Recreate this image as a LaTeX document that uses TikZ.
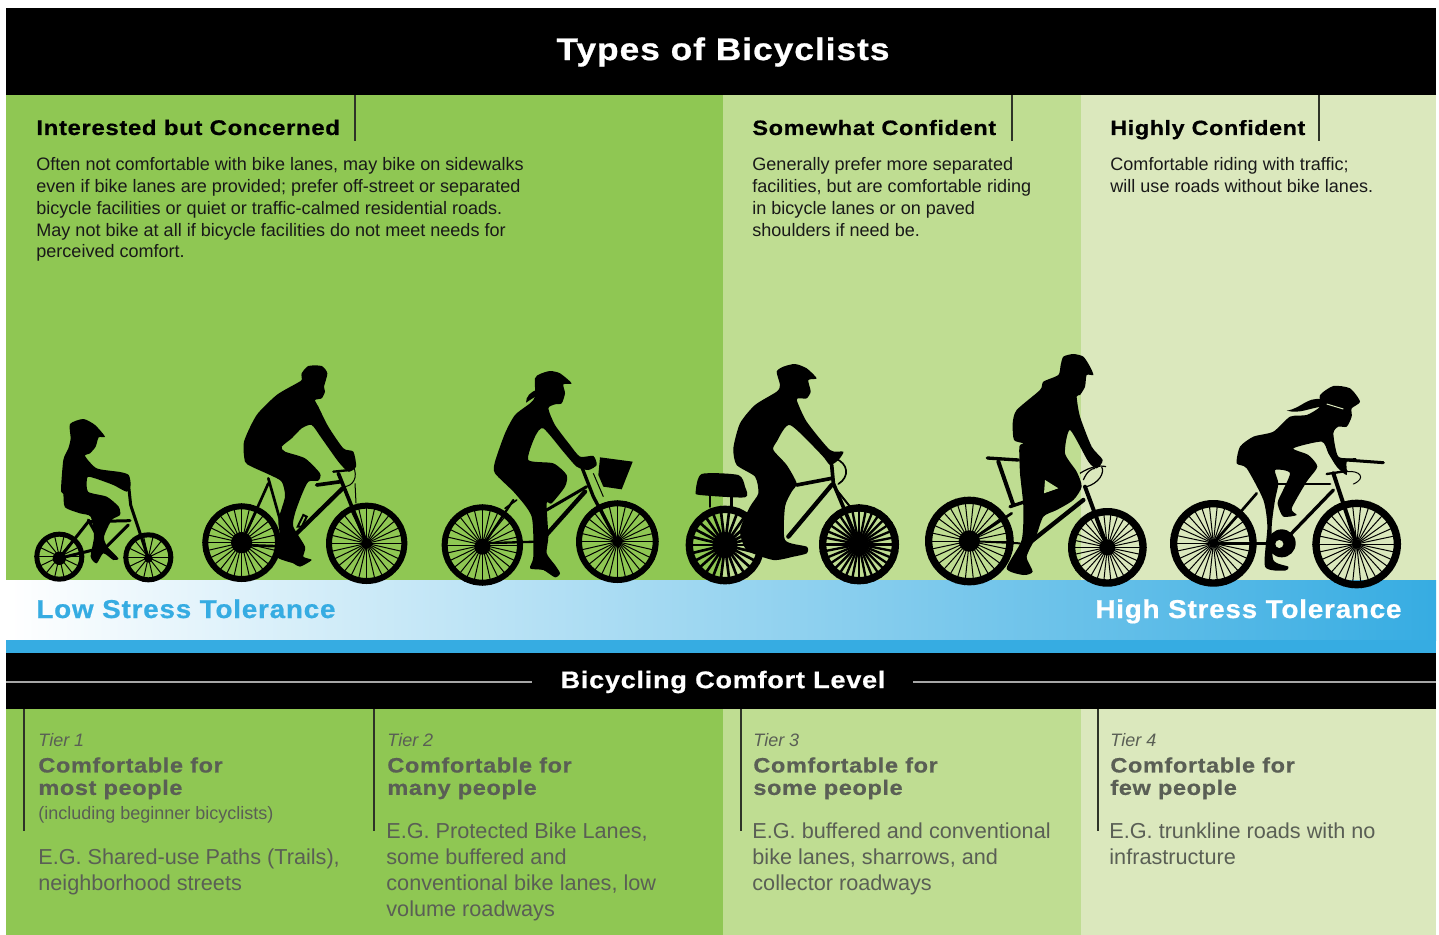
\documentclass[tikz,border=0pt]{standalone}
\usepackage{fontspec}
\setmainfont{Liberation Sans}
\newfontfamily\hd[LetterSpace=3,FakeBold=0.7,FakeStretch=1.13]{Liberation Sans Bold}
\newfontfamily\hdn[LetterSpace=3,FakeBold=0.7,FakeStretch=1.08]{Liberation Sans Bold}
\usetikzlibrary{calc}
\definecolor{gA}{HTML}{8FC753}
\definecolor{gB}{HTML}{BFDD92}
\definecolor{gC}{HTML}{DBE8BD}
\definecolor{blueA}{HTML}{36ACE2}
\definecolor{blueM}{HTML}{9FD2F0}
\definecolor{txtG}{HTML}{5A5F55}
\definecolor{ruleC}{HTML}{2E3328}
\tikzset{
  zsp/.style={x=0.16667pt,y=-0.16667pt},
  hdg/.style={anchor=base west,inner sep=0,font={\hd\fontsize{#1}{12}\selectfont}},
  bdy/.style={anchor=north west,inner sep=0,align=left,font={\fontsize{9.02}{10.85}\selectfont},text=black!90},
  tier/.style={anchor=base west,inner sep=0,font={\fontsize{9}{10}\selectfont\itshape},text=txtG},
  cmf/.style={anchor=north west,inner sep=0,align=left,font={\hd\fontsize{10.4}{11.2}\selectfont},text=txtG},
  ege/.style={anchor=north west,inner sep=0,align=left,font={\fontsize{10.83}{13}\selectfont},text=txtG},
  stress/.style={anchor=base west,inner sep=0,font={\hdn\fontsize{12.9}{14}\selectfont}},
  vrule/.style={draw=ruleC,line width=0.8pt},
  hrule/.style={draw=black!35,line width=0.8pt},
}
\newcommand{\cywheel}[6]{%
  \foreach \a in {1,...,#5}{\draw[line width={#6*0.16667pt}] (#1,#2) -- ++({\a*360/#5}:#3);}
  \draw[line width={#4*0.16667pt}] (#1,#2) circle[radius={#3-#4/2}];
}
\newcommand{\cysil}[1]{\fill[black] plot[smooth cycle,tension=0.4] coordinates {#1};}
\newcommand{\cyfr}[2]{\draw[line width={#1*0.16667pt},line cap=round,line join=round] #2;}
\begin{document}
\begin{tikzpicture}[x=0.5pt,y=-0.5pt]
\useasboundingbox (0,0) rectangle (1439,935);
% panels
\fill[white] (0,0) rectangle (1439,935);
\fill[gA] (6,95) rectangle (723,935);
\fill[gB] (723,95) rectangle (1081,935);
\fill[gC] (1081,95) rectangle (1436,935);
\fill[black] (6,8) rectangle (1436,95);
\shade[left color=white,middle color=blueM,right color=blueA] (6,580) rectangle (1436,640);
\fill[blueA] (6,640) rectangle (1436,653);
\fill[black] (6,653) rectangle (1436,709);
% header
\node[inner sep=0,text=white,font={\hd\fontsize{15.66}{18}\selectfont}] (title) at (723,52) {Types of Bicyclists};
\draw[vrule] (355,95) -- (355,141);
\draw[vrule] (1012,95) -- (1012,141);
\draw[vrule] (1319,95) -- (1319,141);
\node[hdg=10.6] (h1) at (36,135) {Interested but Concerned};
\node[hdg=10.4] (h2) at (752,135) {Somewhat Confident};
\node[hdg=10.3] (h3) at (1110,135) {Highly Confident};
\node[bdy] (b1) at (36,157.5) {Often not comfortable with bike lanes, may bike on sidewalks\\even if bike lanes are provided; prefer off-street or separated\\bicycle facilities or quiet or traffic-calmed residential roads.\\May not bike at all if bicycle facilities do not meet needs for\\perceived comfort.};
\node[bdy] (b2) at (752,157.5) {Generally prefer more separated\\facilities, but are comfortable riding\\in bicycle lanes or on paved\\shoulders if need be.};
\node[bdy] (b3) at (1110,157.5) {Comfortable riding with traffic;\\will use roads without bike lanes.};
% stress
\node[stress,text=blueA] (lo) at (36,618) {Low Stress Tolerance};
\node[stress,text=white] (hi) at (1095,618) {High Stress Tolerance};
% comfort
\node[inner sep=0,text=white,font={\hd\fontsize{12}{14}\selectfont}] (comfort) at (723,682) {Bicycling Comfort Level};
\coordinate (cl) at (6,682); \coordinate (cr) at (1436,682);
\draw[hrule] (cl) -- (532,682);
\draw[hrule] (913,682) -- (cr);
% tiers
\foreach \x/\y in {24/831,374/831,741/831,1098/831}{\draw[vrule] (\x,709) -- (\x,\y);}
\node[tier] (t1) at (38,746) {Tier 1};
\node[tier] (t2) at (387,746) {Tier 2};
\node[tier] (t3) at (753,746) {Tier 3};
\node[tier] (t4) at (1110,746) {Tier 4};
\node[cmf] (c1) at (38,757) {Comfortable for\\most people};
\node[cmf] (c2) at (387,757) {Comfortable for\\many people};
\node[cmf] (c3) at (753,757) {Comfortable for\\some people};
\node[cmf] (c4) at (1110,757) {Comfortable for\\few people};
\node[anchor=base west,inner sep=0,font={\fontsize{9}{10}\selectfont},text=txtG] (inc) at (38,819) {(including beginner bicyclists)};
\node[ege] (e1) at (38,848) {E.G. Shared-use Paths (Trails),\\neighborhood streets};
\node[ege] (e2) at (386,822) {E.G. Protected Bike Lanes,\\some buffered and\\conventional bike lanes, low\\volume roadways};
\node[ege] (e3) at (752,822) {E.G. buffered and conventional\\bike lanes, sharrows, and\\collector roadways};
\node[ege] (e4) at (1109,822) {E.G. trunkline roads with no\\infrastructure};
% ---- cyclists 1,2
\begin{scope}[shift={(0,350)},zsp]
 % child
 \cywheel{178}{620}{75}{15}{14}{3}
 \cywheel{445}{622}{75}{15}{14}{3}
 \fill (178,625) circle[radius=20]; \fill (445,625) circle[radius=13];
 \cyfr{9}{(383,380) -- (392,465) -- (445,625)}
 \cyfr{9}{(178,625) -- (265,515) -- (390,512)}
 \cyfr{9}{(385,525) -- (320,590) -- (178,625)}
 \cyfr{9}{(265,510) -- (310,590)}
 \cysil{(210,222)(250,207)(285,225)(315,260)(296,262)(287,290)(270,310)(255,318)(290,355)(360,366)(386,375)(392,405)(380,425)(340,405)(285,385)(262,382)(264,425)(320,440)(356,470)(360,495)(335,510)(312,560)(322,590)(355,625)(340,630)(310,610)(290,640)(272,620)(282,560)(272,500)(240,490)(195,472)(190,432)(183,420)(190,330)(205,295)(212,265)}
 % man
 \cywheel{725}{578}{118}{18}{28}{3}
 \cywheel{1100}{580}{122}{18}{28}{3}
 \fill (725,578) circle[radius=32]; \fill (1100,580) circle[radius=16];
 \cyfr{11}{(1015,370) -- (1100,580)}
 \cyfr{11}{(950,405) -- (1022,395)}
 \cyfr{13}{(1028,415) -- (885,555)}
 \cyfr{8}{(725,578) -- (805,400)}
 \cyfr{8}{(725,585) -- (870,590)}
 \cyfr{8}{(805,385) -- (850,545)}
 \cyfr{7}{(1000,365) -- (1050,360)}
 \draw[line width=0.5pt] (1060,350) .. controls (1075,380) and (1060,410) .. (1030,410);
 \draw[line width=0.5pt] (1065,400) -- (1068,460);
 \draw[line width=1pt] (893,530) -- (910,495) -- (920,500) -- (905,530) -- cycle;
 \cysil{(905,70)(925,48)(965,48)(982,70)(972,110)(975,125)(965,145)(945,150)(955,170)(985,230)(1030,295)(1060,305)(1068,350)(1045,365)(1015,335)(965,265)(935,225)(905,235)(875,265)(845,290)(855,305)(915,325)(960,370)(955,392)(925,395)(905,435)(885,490)(880,530)(915,590)(910,620)(935,630)(900,650)(880,640)(830,620)(840,560)(835,510)(855,440)(845,395)(810,375)(755,350)(735,335)(732,275)(770,195)(830,135)(890,100)(905,90)}
\end{scope}
% ---- cyclists 3,4
\begin{scope}[shift={(430,350)},zsp]
 % woman with basket
 \cywheel{157}{585}{122}{18}{28}{3}
 \cywheel{562}{575}{124}{18}{28}{3}
 \fill (157,590) circle[radius=24]; \fill (562,575) circle[radius=14];
 \cyfr{10}{(455,350) -- (490,440) -- (562,575)}
 \cyfr{13}{(465,425) -- (340,565)}
 \cyfr{9}{(470,410) -- (350,480)}
 \cyfr{7}{(157,590) -- (250,450)}
 \cyfr{7}{(157,580) -- (320,575)}
 \cyfr{5}{(225,475) -- (260,450)}
 \fill[black] (510,322) -- (608,335) -- (575,418) -- (520,410) -- (505,375) -- cycle;
 \draw[line width=0.5pt] (490,370) -- (520,440);
 \cysil{(315,85)(330,72)(360,63)(390,70)(425,100)(400,103)(405,130)(395,160)(375,163)(355,175)(375,225)(420,285)(450,320)(490,318)(500,345)(475,360)(440,350)(400,305)(340,235)(315,260)(295,330)(370,340)(410,375)(405,410)(365,460)(350,460)(355,560)(350,610)(375,645)(390,670)(375,682)(340,660)(300,655)(310,620)(305,500)(255,430)(195,370)(195,335)(225,250)(255,195)(300,160)(315,140)}
 \fill[black] (325,118) .. controls (300,125) and (288,140) .. (288,158) .. controls (300,150) and (315,140) .. (325,135) -- cycle;
 % man with rack
 \cywheel{885}{585}{118}{22}{26}{8}
 \cywheel{1287}{583}{120}{22}{32}{7}
 \fill (885,585) circle[radius=38]; \fill (1287,583) circle[radius=24];
 \cyfr{11}{(1100,405) -- (1205,385)}
 \cyfr{13}{(1205,405) -- (1075,560)}
 \cyfr{11}{(1205,345) -- (1210,400) -- (1287,583)}
 \cyfr{6}{(1220,420) -- (1260,470)}
 \cyfr{7}{(885,585) -- (1000,480)}
 \cyfr{5}{(1215,325) .. controls (1255,340) and (1260,380) .. (1225,402)}
 \cyfr{8}{(840,435) -- (840,470)}
 \cyfr{8}{(905,435) -- (905,470)}
 \cysil{(815,372)(925,375)(945,410)(945,442)(810,435)(797,425)}
 \cysil{(1040,65)(1060,50)(1095,42)(1130,55)(1160,85)(1135,90)(1142,125)(1130,145)(1110,145)(1100,150)(1130,215)(1200,300)(1240,305)(1225,330)(1200,345)(1175,315)(1080,225)(1040,275)(1030,300)(1070,345)(1100,400)(1085,425)(1065,470)(1065,570)(1130,590)(1130,610)(1090,620)(1030,630)(950,600)(930,540)(960,470)(985,430)(975,380)(920,345)(910,295)(930,220)(975,165)(1040,125)(1050,105)}
\end{scope}
% ---- cyclists 5,6
\begin{scope}[shift={(910,340)},zsp]
 % backpack man
 \cywheel{178}{603}{133}{22}{30}{3}
 \cywheel{592}{622}{118}{22}{30}{3}
 \fill (178,603) circle[radius=32]; \fill (592,622) circle[radius=24];
 \cyfr{10}{(232,354) -- (325,360)}
 \cyfr{12}{(265,365) -- (310,495)}
 \cyfr{10}{(300,500) -- (450,450)}
 \cyfr{13}{(520,480) -- (350,615)}
 \cyfr{12}{(525,440) -- (592,622)}
 \cyfr{8}{(178,603) -- (305,520)}
 \cyfr{6}{(178,603) -- (330,610)}
 \draw[line width=0.6pt] (510,400) .. controls (540,380) and (570,375) .. (588,380);
 \draw[line width=0.6pt] (530,440) .. controls (565,430) and (585,400) .. (575,380);
 \draw[line width=0.6pt] (520,420) .. controls (530,395) and (545,385) .. (555,385);
 \cysil{(452,75)(460,50)(490,42)(520,50)(540,80)(550,105)(530,105)(525,140)(510,165)(500,170)(510,230)(545,320)(578,360)(560,385)(535,365)(480,270)(465,340)(500,395)(515,440)(490,480)(440,510)(400,530)(378,590)(350,650)(368,695)(340,705)(290,685)(335,600)(340,500)(330,400)(328,320)(340,310)(312,300)(308,250)(320,210)(390,150)(400,125)(445,105)}
 \fill[gB] (405,420) -- (445,445) -- (402,460) -- cycle;
 \cyfr{8}{(395,468) -- (460,445)}
 % racing woman
 \cywheel{910}{610}{130}{22}{30}{3}
 \cywheel{1340}{612}{133}{22}{30}{3}
 \fill (910,610) circle[radius=12]; \fill (1340,612) circle[radius=14];
 \cyfr{8}{(1100,432) -- (1260,432)}
 \cyfr{10}{(1270,450) -- (1135,590)}
 \cyfr{12}{(1270,400) -- (1340,612)}
 \cyfr{8}{(910,610) -- (1040,460)}
 \cyfr{8}{(910,610) -- (1100,610)}
 \fill (1115,610) circle[radius=42];
 \fill[gC] (1108,612) circle[radius=12];
 \cyfr{9}{(1280,358) -- (1420,368)}
 \cyfr{7}{(1250,402) -- (1310,393)}
 \cyfr{3}{(1310,395) .. controls (1350,390) and (1370,415) .. (1330,432)}
 \cysil{(1230,165)(1270,138)(1320,145)(1350,185)(1325,205)(1325,230)(1310,260)(1285,260)(1270,280)(1285,350)(1340,355)(1310,365)(1310,405)(1280,380)(1255,340)(1235,305)(1150,325)(1195,345)(1222,380)(1190,425)(1145,505)(1160,525)(1120,530)(1105,500)(1105,480)(1140,400)(1095,390)(1105,430)(1095,480)(1085,560)(1090,660)(1135,680)(1125,692)(1065,680)(1072,560)(1060,480)(1010,385)(980,370)(990,320)(1030,290)(1090,275)(1140,230)(1190,225)(1230,200)}
 \fill[black] (1235,178) .. controls (1190,170) and (1175,205) .. (1130,212) .. controls (1170,222) and (1195,205) .. (1235,200) -- cycle;
 \draw[gC,line width=0.5pt] (1250,192) -- (1300,207);
\end{scope}
\end{tikzpicture}
\end{document}
